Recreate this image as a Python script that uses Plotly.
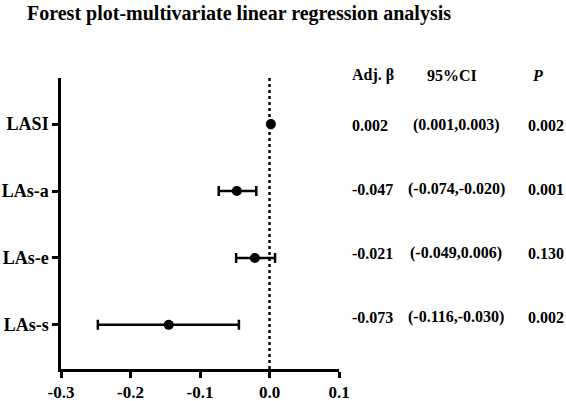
import plotly.graph_objects as go

# Data
categories = ["LASI", "LAs-a", "LAs-e", "LAs-s"]
estimate = [0.002, -0.047, -0.021, -0.145]
ci_low = [0.001, -0.073, -0.048, -0.247]
ci_high = [0.003, -0.019, 0.008, -0.044]

adj_beta_text = ["0.002", "-0.047", "-0.021", "-0.073"]
ci_text = ["(0.001,0.003)", "(-0.074,-0.020)", "(-0.049,0.006)", "(-0.116,-0.030)"]
p_text = ["0.002", "0.001", "0.130", "0.002"]
x_ticks = [-0.3, -0.2, -0.1, 0.0, 0.1]

W, H = 566, 401
L, R, T, B = 61, 339, 78, 369
FONT = "Liberation Serif"

ypos = list(range(len(categories)))
fig = go.Figure()
fig.add_trace(go.Scatter(
    x=estimate, y=ypos, mode="markers",
    marker=dict(color="black", size=10, symbol="circle"),
    error_x=dict(type="data", symmetric=False,
                 array=[h - e for h, e in zip(ci_high, estimate)],
                 arrayminus=[e - l for e, l in zip(estimate, ci_low)],
                 color="black", thickness=2.5, width=5),
    showlegend=False, cliponaxis=False,
))

fig.add_shape(type="line", xref="x", yref="paper", x0=0, x1=0, y0=0, y1=1,
              line=dict(color="black", width=2.5, dash="dot"), layer="below")

def px2paper_x(px):
    return (px - L) / (R - L)

def px2paper_y(py):
    return (B - py) / (B - T)

ann = []
hdr_y = px2paper_y(75)
hfont = dict(family=FONT, size=16, color="black", weight="bold")
ann.append(dict(text="Adj. β", x=px2paper_x(350), y=hdr_y, xanchor="left"))
ann.append(dict(text="95%CI", x=px2paper_x(452), y=hdr_y, xanchor="center"))
ann.append(dict(text="<i>P</i>", x=px2paper_x(537), y=hdr_y, xanchor="center"))
row_py = [125, 189, 253, 317]
for i in range(len(categories)):
    yy = px2paper_y(row_py[i])
    ann.append(dict(text=adj_beta_text[i], x=px2paper_x(350), y=yy, xanchor="left"))
    ann.append(dict(text=ci_text[i], x=px2paper_x(456), y=yy, xanchor="center"))
    ann.append(dict(text=p_text[i], x=px2paper_x(526), y=yy, xanchor="left"))
for a in ann:
    a.update(xref="paper", yref="paper", yanchor="middle", showarrow=False, font=hfont)

fig.update_layout(
    width=W, height=H,
    margin=dict(l=L, r=W - R, t=T, b=H - B, pad=0),
    plot_bgcolor="white", paper_bgcolor="white",
    title=dict(text="Forest plot-multivariate linear regression analysis",
               x=27 / W, xanchor="left", y=1 - 13 / H, yanchor="middle",
               font=dict(family=FONT, size=20, color="black", weight="bold"),
               automargin=False),
    annotations=ann,
)
fig.update_xaxes(range=[-0.3, 0.1], tickvals=x_ticks,
                 ticktext=[f"{v:.1f}" for v in x_ticks], automargin=False,
                 showgrid=False, zeroline=False, showline=True, linecolor="black", linewidth=2.5,
                 ticks="outside", ticklen=6, tickwidth=2.5, tickcolor="black",
                 tickfont=dict(family=FONT, size=17, color="black", weight="bold"))
fig.update_yaxes(range=[3.66, -0.69], tickvals=ypos, ticktext=categories, automargin=False,
                 showgrid=False, zeroline=False, showline=True, linecolor="black", linewidth=2.5,
                 ticks="outside", ticklen=6, tickwidth=2.5, tickcolor="black",
                 tickfont=dict(family=FONT, size=18, color="black", weight="bold"))

fig.write_html("out.html")
